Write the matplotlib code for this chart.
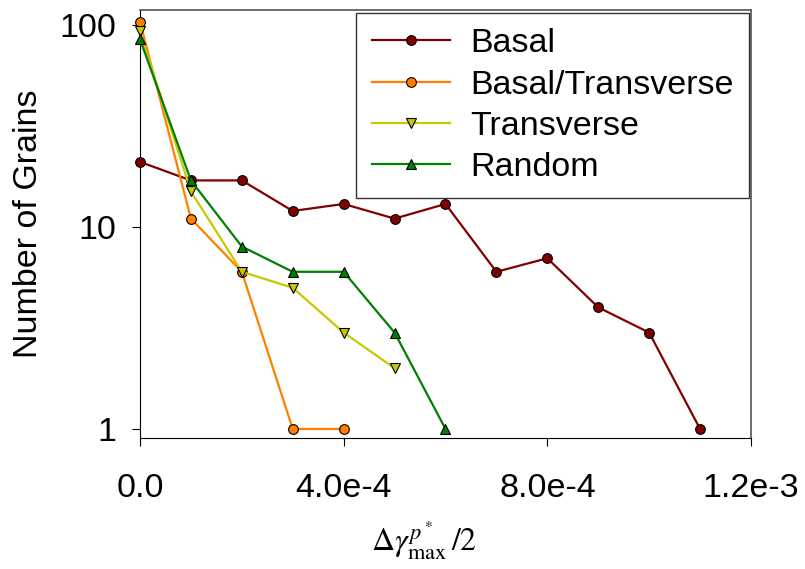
import matplotlib
matplotlib.use('Agg')
import matplotlib.pyplot as plt
from matplotlib.ticker import FixedLocator, FixedFormatter, NullLocator

plt.rcParams['font.family'] = ['Liberation Sans', 'DejaVu Sans']
plt.rcParams['mathtext.fontset'] = 'stix'

# strain amplitude bins
x_basal = [0, 1e-4, 2e-4, 3e-4, 4e-4, 5e-4, 6e-4, 7e-4, 8e-4, 9e-4, 1.0e-3, 1.1e-3]
basal = [21, 17, 17, 12, 13, 11, 13, 6, 7, 4, 3, 1]

x_bt = [0, 1e-4, 2e-4, 3e-4, 4e-4]
basal_transverse = [104, 11, 6, 1, 1]

x_trans = [0, 1e-4, 2e-4, 3e-4, 4e-4, 5e-4]
transverse = [93, 15, 6, 5, 3, 2]

x_rand = [0, 1e-4, 2e-4, 3e-4, 4e-4, 5e-4, 6e-4]
random_ = [85, 17, 8, 6, 6, 3, 1]

xticks = [0, 4e-4, 8e-4, 1.2e-3]
xticklabels = ['0.0', '4.0e-4', '8.0e-4', '1.2e-3']
yticks = [1, 10, 100]
yticklabels = ['1', '10', '100']

fig = plt.figure(figsize=(8.05, 5.69), dpi=100)
ax = fig.add_axes([0.1739, 0.2302, 0.7590, 0.7522])

series = [
    (x_basal, basal, 'Basal', '#800000', 'o'),
    (x_bt, basal_transverse, 'Basal/Transverse', '#ff8000', 'o'),
    (x_trans, transverse, 'Transverse', '#c8c800', 'v'),
    (x_rand, random_, 'Random', '#008000', '^'),
]
for xs, ys, name, col, mk in series:
    ax.plot(xs, ys, color=col, lw=1.6, marker=mk, ms=7, mfc=col,
            mec='black', mew=0.8, label=name, clip_on=False, zorder=3)

ax.set_yscale('log')
ax.set_xlim(0, 1.2e-3)
ax.set_ylim(0.902, 118.6)

ax.xaxis.set_major_locator(FixedLocator(xticks))
ax.xaxis.set_major_formatter(FixedFormatter(xticklabels))
ax.yaxis.set_major_locator(FixedLocator(yticks))
ax.yaxis.set_major_formatter(FixedFormatter(yticklabels))
ax.yaxis.set_minor_locator(NullLocator())
ax.xaxis.set_minor_locator(NullLocator())
ax.tick_params(direction='out', length=6, width=0.8, labelsize=24.5)
ax.tick_params(axis='x', pad=19)
ax.tick_params(axis='y', pad=11)

for side in ('top', 'right'):
    ax.spines[side].set_color('#555555')
    ax.spines[side].set_linewidth(1.2)
for side in ('left', 'bottom'):
    ax.spines[side].set_linewidth(0.8)

ax.set_ylabel('Number of Grains', fontsize=24.5, labelpad=11)
ax.set_xlabel(r'$\Delta\gamma^{p^*}_{\max}\,/2$', fontsize=23)
ax.xaxis.set_label_coords(0.465, -0.19)

leg = ax.legend(loc='upper right', bbox_to_anchor=(0.997, 0.993), fontsize=24.5,
                frameon=True, fancybox=False, edgecolor='black',
                handlelength=2.3, handletextpad=0.6, borderpad=0.45,
                labelspacing=0.3, borderaxespad=0)
leg.get_frame().set_linewidth(1.0)

fig.savefig('out.png', dpi=100)
